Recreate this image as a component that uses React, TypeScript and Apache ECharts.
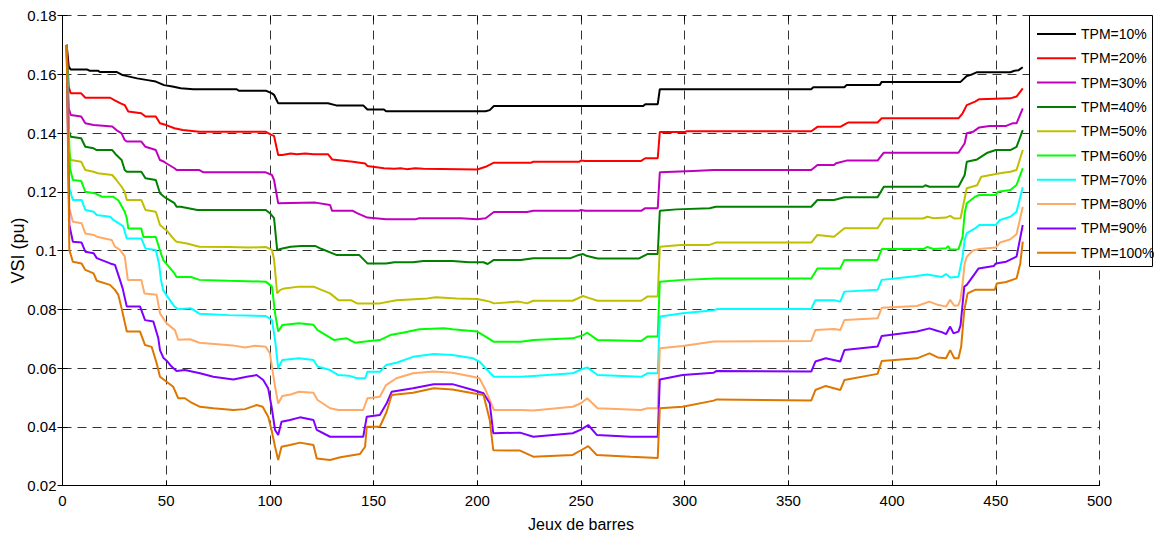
import { useEffect, useRef } from "react";
import * as echarts from "echarts";

type Pt = [number, number];

const seriesNames = [
  "TPM=10%",
  "TPM=20%",
  "TPM=30%",
  "TPM=40%",
  "TPM=50%",
  "TPM=60%",
  "TPM=70%",
  "TPM=80%",
  "TPM=90%",
  "TPM=100%",
];

const seriesColors = [
  "#000000",
  "#ff0000",
  "#bf00bf",
  "#007f00",
  "#bfbf00",
  "#00ff00",
  "#00ffff",
  "#ffaa66",
  "#8000ff",
  "#dd7700",
];

const xMin = 0;
const xMax = 500;
const xStep = 50;
const yMin = 0.02;
const yMax = 0.18;
const yStep = 0.02;

const tpm10: Pt[] = [
  [2, 0.17], [3, 0.1626], [4, 0.1616], [12, 0.1616], [13, 0.1612], [17, 0.1612], [18, 0.1608],
  [26, 0.1608], [29, 0.1597], [36, 0.1586], [41, 0.158], [45, 0.1575], [49, 0.1563], [53, 0.1558],
  [57, 0.1552], [63, 0.1549], [84, 0.1549], [85, 0.1544], [98, 0.1544], [101, 0.1535], [102, 0.153],
  [104, 0.1501], [128, 0.1501], [132, 0.1494], [145, 0.1494], [147, 0.148], [155, 0.148],
  [156, 0.1474], [204, 0.1474], [206, 0.1478], [208, 0.1492], [280, 0.1492], [281, 0.1498],
  [287, 0.1498], [288, 0.1549], [361, 0.1549], [362, 0.1556], [377, 0.1556], [378, 0.1563],
  [394, 0.1563], [395, 0.1574], [433, 0.1574], [436, 0.1594], [438, 0.1598], [441, 0.1607],
  [457, 0.1607], [459, 0.1612], [461, 0.1614], [463, 0.1624],
];

const tpm20: Pt[] = [
  [2, 0.17], [3, 0.1556], [4, 0.1535], [9, 0.1535], [11, 0.152], [23, 0.152], [25, 0.1512],
  [28, 0.1501], [30, 0.1495], [31.7, 0.1473], [38, 0.1467], [40, 0.1456], [45, 0.1456],
  [47, 0.1433], [50, 0.1427], [54, 0.1416], [58, 0.141], [66, 0.1404], [98, 0.1404],
  [101, 0.1393], [102, 0.139], [104, 0.1325], [106, 0.1325], [110, 0.133], [113, 0.1328],
  [117, 0.133], [121, 0.1328], [128, 0.1328], [130, 0.131], [140, 0.1302], [146, 0.1296],
  [147, 0.1288], [155, 0.128], [160, 0.1278], [163, 0.128], [166, 0.1277], [170, 0.128],
  [174, 0.1278], [200, 0.1276], [204, 0.1285], [208, 0.1299], [226, 0.1299], [227, 0.1302],
  [249, 0.1302], [250, 0.1306], [252, 0.1305], [279, 0.1305], [281, 0.1314], [287, 0.1314],
  [288, 0.1403], [300, 0.1403], [301, 0.1406], [361, 0.1406], [364, 0.1421], [375, 0.1421],
  [378, 0.1433], [379, 0.1436], [393, 0.1436], [395, 0.145], [432, 0.145], [434, 0.1467],
  [436, 0.1495], [440, 0.1507], [442, 0.1515], [457, 0.1518], [460, 0.1524], [463, 0.1552],
];

const tpm30: Pt[] = [
  [2, 0.17], [3, 0.1484], [4, 0.1461], [9, 0.1456], [11, 0.1433], [15, 0.1427], [24, 0.1422],
  [26, 0.141], [28.5, 0.1399], [30, 0.1376], [31, 0.1371], [38, 0.1371], [40, 0.1353],
  [45, 0.1342], [47, 0.1308], [49, 0.1302], [50, 0.1297], [54, 0.128], [55, 0.1274],
  [66, 0.1274], [68, 0.1266], [98, 0.1266], [101, 0.1257], [102, 0.124], [104, 0.1161],
  [122, 0.1163], [129, 0.1155], [130, 0.1135], [140, 0.1135], [142, 0.1127], [147, 0.1112],
  [156, 0.1106], [170, 0.1106], [172, 0.111], [192, 0.111], [200, 0.1106], [204, 0.111],
  [208, 0.1131], [224, 0.1131], [227, 0.1135], [249, 0.1135], [250, 0.1138], [252, 0.1135],
  [279, 0.1135], [281, 0.1144], [287, 0.1144], [288, 0.1266], [304, 0.1271], [314, 0.1274],
  [361, 0.1274], [364, 0.1291], [372, 0.1291], [373, 0.1297], [378, 0.1306], [393, 0.1306],
  [396, 0.1333], [432, 0.1333], [435, 0.1365], [436, 0.1399], [439, 0.1404], [442, 0.1419],
  [447, 0.1424], [455, 0.1424], [458, 0.1433], [460, 0.1433], [463, 0.1484],
];

const tpm40: Pt[] = [
  [2, 0.17], [3, 0.141], [4, 0.1387], [9, 0.1382], [11, 0.1353], [15, 0.1348], [16.5, 0.1342],
  [24, 0.1342], [26, 0.1325], [28.5, 0.1308], [30, 0.1274], [31, 0.1268], [38, 0.1268],
  [40, 0.1246], [45, 0.124], [47, 0.1195], [49, 0.1183], [50, 0.1178], [54, 0.1161],
  [55, 0.1149], [57, 0.1149], [65, 0.1138], [98, 0.1138], [100, 0.1127], [102, 0.111],
  [103.5, 0.1002], [106, 0.1007], [110, 0.1013], [115, 0.1015], [122, 0.1015], [125, 0.1005],
  [132, 0.0985], [143, 0.0985], [147, 0.0956], [156, 0.0956], [160, 0.096], [169, 0.096],
  [174, 0.0964], [188, 0.0964], [196, 0.096], [203, 0.096], [205, 0.0954], [208, 0.0968],
  [221, 0.0968], [227, 0.0974], [245, 0.0974], [249, 0.0985], [251, 0.0988], [253, 0.0981],
  [258, 0.0973], [278, 0.0973], [282, 0.0988], [287, 0.0988], [288, 0.1135], [296, 0.114],
  [312, 0.1144], [315, 0.1149], [361, 0.1149], [364, 0.1172], [372, 0.1172], [377, 0.1181],
  [393, 0.1181], [396, 0.1217], [415, 0.1217], [416, 0.1222], [418, 0.1217], [432, 0.1217],
  [435, 0.1257], [436, 0.1302], [441, 0.131], [446, 0.1333], [450, 0.1342], [457, 0.1342],
  [460, 0.1353], [463, 0.141],
];

const tpm50: Pt[] = [
  [2, 0.17], [3, 0.1348], [4, 0.1308], [9, 0.1302], [11, 0.1274], [15, 0.1268], [17, 0.1263],
  [24, 0.1257], [26, 0.124], [28.5, 0.1217], [30, 0.12], [31, 0.1172], [38, 0.1172],
  [40, 0.1138], [45, 0.1132], [47, 0.1087], [49, 0.1075], [50, 0.107], [54, 0.1036],
  [55, 0.103], [60, 0.1024], [66, 0.1013], [80, 0.1012], [90, 0.101], [98, 0.1012],
  [101, 0.1002], [102, 0.097], [103.5, 0.0854], [105, 0.0866], [107, 0.0871], [114, 0.0877],
  [121, 0.0877], [129, 0.0854], [133, 0.0831], [139, 0.0831], [142, 0.082], [153, 0.082],
  [161, 0.0831], [176, 0.0837], [180, 0.0841], [190, 0.0837], [200, 0.0835], [206, 0.0826],
  [208, 0.082], [220, 0.0826], [224, 0.082], [227, 0.0829], [246, 0.0829], [251, 0.0845],
  [254, 0.0838], [258, 0.0829], [279, 0.0829], [282, 0.0843], [287, 0.0843], [288, 0.1013],
  [298, 0.1019], [312, 0.1019], [315, 0.1027], [361, 0.1027], [364, 0.1053], [372, 0.1047],
  [377, 0.1076], [393, 0.1076], [396, 0.1109], [415, 0.1109], [417, 0.1115], [420, 0.111],
  [426, 0.1112], [428, 0.1118], [430, 0.1109], [433, 0.111], [436, 0.1212], [441, 0.1222],
  [443, 0.1251], [452, 0.1263], [457, 0.1268], [460, 0.1274], [463, 0.1342],
];

const tpm60: Pt[] = [
  [2, 0.17], [3.6, 0.128], [5, 0.124], [9, 0.1237], [11, 0.12], [16, 0.1194], [19, 0.1183],
  [24.5, 0.1183], [27, 0.117], [30, 0.1132], [31, 0.111], [31.7, 0.1075], [38, 0.1075],
  [39, 0.1046], [45, 0.1046], [47, 0.1], [48.6, 0.0967], [54, 0.0922], [55, 0.091],
  [62, 0.091], [66, 0.09], [80, 0.0897], [98, 0.0894], [101, 0.0877], [102.5, 0.0786],
  [104, 0.0724], [106, 0.0746], [114, 0.0752], [121, 0.0747], [123, 0.0729], [131, 0.0695],
  [137, 0.0701], [141, 0.0686], [147, 0.0691], [153, 0.0695], [158, 0.0712], [164, 0.072],
  [172, 0.0732], [184, 0.0735], [188, 0.0732], [200, 0.0724], [204, 0.0707], [208, 0.0689],
  [221, 0.0689], [227, 0.0695], [246, 0.0701], [251, 0.0712], [253, 0.072], [256, 0.0705],
  [258, 0.0695], [279, 0.0692], [282, 0.0707], [287, 0.0707], [288, 0.0894], [299, 0.09],
  [315, 0.0905], [361, 0.0905], [364, 0.0939], [375, 0.0939], [377, 0.0968], [393, 0.0968],
  [395, 0.1005], [415, 0.1005], [417, 0.1012], [420, 0.1005], [426, 0.1008], [427, 0.1015],
  [428, 0.1003], [432, 0.1004], [434, 0.1047], [435, 0.1127], [436, 0.1161], [440, 0.1183],
  [442, 0.1189], [450, 0.1189], [451, 0.12], [457, 0.1206], [460, 0.1223], [463, 0.128],
];

const tpm70: Pt[] = [
  [2, 0.17], [3.3, 0.1212], [5, 0.1172], [9.2, 0.1172], [11, 0.1138], [15, 0.1132],
  [16.5, 0.1121], [23, 0.1115], [24.5, 0.1104], [27, 0.1093], [29.3, 0.1082], [31, 0.1041],
  [38, 0.1041], [40, 0.1007], [45, 0.1002], [46.5, 0.0956], [47.5, 0.09], [48.5, 0.0866],
  [50, 0.0849], [54, 0.0809], [56, 0.08], [62, 0.0803], [66, 0.0785], [80, 0.078],
  [98, 0.0777], [101, 0.0763], [102.5, 0.0695], [104, 0.0599], [106, 0.0627], [114, 0.0633],
  [121, 0.0627], [123, 0.0605], [129, 0.0593], [133, 0.0576], [138, 0.0574], [142, 0.0565],
  [146, 0.0565], [147, 0.0587], [153, 0.0587], [156, 0.061], [161, 0.0618], [169, 0.0638],
  [179, 0.0648], [188, 0.0644], [198, 0.0633], [201, 0.0622], [204, 0.0599], [208, 0.057],
  [221, 0.057], [227, 0.0573], [246, 0.0582], [250, 0.0595], [253, 0.0602], [258, 0.0576],
  [279, 0.057], [282, 0.0582], [287, 0.0582], [288, 0.0775], [290, 0.0777], [299, 0.0786],
  [314, 0.0797], [316, 0.0801], [361, 0.0801], [363, 0.0831], [372, 0.0831], [375, 0.0826],
  [377, 0.086], [393, 0.0866], [395, 0.09], [411, 0.0912], [417, 0.0918], [424, 0.091],
  [426, 0.092], [428, 0.0908], [432, 0.0911], [434, 0.0979], [435, 0.1036], [436, 0.1059],
  [440, 0.1075], [442, 0.1087], [450, 0.1087], [452, 0.1104], [457, 0.1115], [460, 0.1132],
  [463, 0.1215],
];

const tpm80: Pt[] = [
  [2, 0.17], [3.3, 0.1144], [5, 0.1098], [9.2, 0.1093], [11, 0.1058], [15, 0.1053],
  [16.5, 0.1047], [23.7, 0.1036], [25.3, 0.1013], [27.7, 0.1002], [30, 0.098], [31.5, 0.09],
  [38, 0.09], [39.5, 0.0854], [45.4, 0.0849], [47, 0.0786], [50.2, 0.0752], [54.2, 0.0729],
  [55.8, 0.0696], [61.5, 0.0698], [66, 0.0686], [82, 0.0677], [88, 0.067], [93, 0.0676],
  [98, 0.0672], [100, 0.065], [101, 0.0605], [102.5, 0.0536], [104, 0.0479], [106, 0.0505],
  [110, 0.051], [114, 0.0519], [121, 0.0516], [123, 0.0491], [129, 0.0463], [133, 0.0457],
  [145, 0.0457], [147, 0.0497], [153, 0.0502], [156, 0.0542], [161, 0.0565], [169, 0.0582],
  [179, 0.0588], [188, 0.0584], [198, 0.057], [201, 0.0565], [204, 0.0525], [208, 0.0457],
  [221, 0.0457], [227, 0.0455], [246, 0.0468], [250, 0.048], [253, 0.0497], [258, 0.0463],
  [279, 0.0457], [282, 0.0463], [287, 0.0463], [288, 0.0667], [299, 0.0675], [314, 0.069],
  [361, 0.0692], [363, 0.0729], [372, 0.0733], [375, 0.0729], [377, 0.0763], [393, 0.0769],
  [395, 0.0805], [412, 0.0811], [418, 0.0826], [422, 0.0815], [426, 0.0809], [428, 0.0832],
  [430, 0.0812], [432, 0.0814], [433, 0.0835], [434, 0.0888], [435, 0.0956], [436, 0.0979],
  [439, 0.1], [442, 0.1005], [450, 0.101], [452, 0.1027], [457, 0.1038], [460, 0.1055],
  [463, 0.1149],
];

const tpm90: Pt[] = [
  [2, 0.17], [3.3, 0.1087], [5, 0.103], [9.2, 0.1027], [11, 0.0996], [15, 0.0991],
  [16.5, 0.0974], [23, 0.0956], [25.3, 0.0951], [27.7, 0.09], [29, 0.0871], [31, 0.0809],
  [37.4, 0.0809], [39.8, 0.0763], [43.8, 0.0758], [46.2, 0.0701], [47, 0.0661],
  [48.6, 0.0635], [50.2, 0.0625], [52.6, 0.0605], [55, 0.059], [59, 0.0593], [66.3, 0.0582],
  [72.7, 0.057], [82.4, 0.0561], [88.8, 0.057], [93.6, 0.0576], [96.8, 0.0559], [99.2, 0.053],
  [100.8, 0.0468], [102.5, 0.0389], [104, 0.0372], [105.6, 0.0417], [109.7, 0.0423],
  [114.5, 0.0432], [121, 0.0423], [122.6, 0.0389], [129, 0.0366], [145, 0.0366],
  [146.7, 0.0434], [153, 0.044], [156.3, 0.048], [158.7, 0.0519], [169, 0.0531], [179, 0.0545],
  [188, 0.0545], [198, 0.0525], [203, 0.0514], [206, 0.048], [207.7, 0.0378], [220.6, 0.038],
  [227, 0.0366], [246, 0.0378], [250, 0.039], [253.5, 0.0406], [257.6, 0.0372], [274, 0.0366],
  [287, 0.0366], [288, 0.0561], [299, 0.0576], [314, 0.0584], [315.4, 0.059], [361, 0.0588],
  [363, 0.0622], [368, 0.0633], [375, 0.0622], [377, 0.0661], [393, 0.0673], [395, 0.0709],
  [412, 0.0724], [418, 0.0735], [422, 0.0726], [424, 0.0722], [426, 0.0715], [428, 0.0741],
  [429.6, 0.0718], [432, 0.0724], [433, 0.0745], [434.8, 0.0877], [436, 0.0883], [440, 0.0922],
  [441.7, 0.0939], [449, 0.0947], [450, 0.0956], [455, 0.0962], [460, 0.0979], [463, 0.1087],
];

const tpm100: Pt[] = [
  [2, 0.17], [3.3, 0.1002], [5, 0.0962], [9.2, 0.0956], [11, 0.0934], [15, 0.0922],
  [16.5, 0.0897], [22.9, 0.0883], [25.3, 0.0866], [26.9, 0.0849], [28.5, 0.0803], [31, 0.0724],
  [37.4, 0.0724], [39.8, 0.0678], [43, 0.0672], [45.4, 0.0616], [47, 0.057], [50.2, 0.0553],
  [53.4, 0.0536], [55.8, 0.0497], [59, 0.0497], [61.5, 0.0485], [66.3, 0.0468], [72.7, 0.0463],
  [82.4, 0.0457], [88, 0.046], [93.6, 0.0474], [96.5, 0.0468], [99.2, 0.0434], [100.8, 0.0389],
  [102.5, 0.0332], [104, 0.0287], [105.6, 0.0332], [109.7, 0.0338], [114.5, 0.0346],
  [121, 0.0338], [122.6, 0.0292], [129, 0.0287], [134, 0.0296], [143.4, 0.0307],
  [145.9, 0.0332], [146.7, 0.04], [153, 0.04], [156.3, 0.0451], [158.7, 0.0508], [169, 0.0516],
  [179, 0.0531], [188, 0.0527], [198, 0.0514], [203, 0.0508], [206, 0.0423], [207.7, 0.032],
  [220.6, 0.0319], [227, 0.0298], [246, 0.0304], [250, 0.032], [253.5, 0.0334],
  [257.6, 0.0304], [274, 0.0298], [287, 0.0294], [288, 0.0463], [299, 0.0468], [314, 0.0489],
  [315.4, 0.0493], [361, 0.0489], [363, 0.0525], [368, 0.0539], [375, 0.0525], [377, 0.0559],
  [393, 0.058], [395, 0.0624], [412, 0.0633], [418, 0.065], [422, 0.0636], [426, 0.0633],
  [428, 0.0661], [430, 0.0633], [432, 0.0633], [433.3, 0.0672], [434.8, 0.0797],
  [436.4, 0.0854], [440, 0.0866], [449.5, 0.0866], [450.5, 0.0888], [455, 0.0893],
  [460, 0.0905], [461.8, 0.0956], [463, 0.103],
];

const seriesData: Pt[][] = [tpm10, tpm20, tpm30, tpm40, tpm50, tpm60, tpm70, tpm80, tpm90, tpm100];

const NARROW = "'Liberation Sans Narrow', 'Liberation Sans', Arial, sans-serif";
const REGULAR = "'Liberation Sans', Arial, sans-serif";

const gridLine = { show: true, lineStyle: { color: "#333333", type: [9, 6] as number[], width: 1 } };

export default function App() {
  const ref = useRef<HTMLDivElement>(null);

  useEffect(() => {
    if (!ref.current) return;
    const chart = echarts.init(ref.current, undefined, { renderer: "svg" });

    const fmtY = (v: number) => String(Number(v.toFixed(2)));

    chart.setOption({
      animation: false,
      backgroundColor: "#ffffff",
      textStyle: { fontFamily: NARROW },
      grid: {
        left: 62.5,
        right: 54.5,
        top: 15.5,
        bottom: 54.5,
        containLabel: false,
        outerBoundsMode: "none",
      },
      // framed box behind the legend entries
      graphic: [
        {
          type: "rect",
          left: 1029,
          top: 15,
          z: 9,
          shape: { width: 123, height: 251 },
          style: { fill: "#ffffff", stroke: "#000000", lineWidth: 1 },
        },
      ],
      legend: {
        data: seriesNames,
        orient: "vertical",
        left: 1029,
        top: 15,
        padding: [12, 2, 7, 8],
        itemWidth: 39,
        itemHeight: 2,
        itemGap: 10.3,
        icon: "rect",
        backgroundColor: "transparent",
        borderWidth: 0,
        textStyle: { fontFamily: NARROW, fontSize: 14, color: "#000000" },
        z: 10,
      },
      xAxis: [
        {
          type: "value",
          min: xMin,
          max: xMax,
          interval: xStep,
          name: "Jeux de barres",
          nameLocation: "middle",
          nameGap: 31,
          nameTextStyle: { fontFamily: NARROW, fontSize: 16, color: "#000000" },
          axisLine: { show: true, onZero: false, lineStyle: { color: "#000000", width: 1 } },
          axisTick: { show: true, inside: true, length: 5, lineStyle: { color: "#000000" } },
          axisLabel: { fontFamily: NARROW, fontSize: 15, color: "#000000", margin: 7 },
          splitLine: gridLine,
        },
        {
          type: "value",
          position: "top",
          min: xMin,
          max: xMax,
          interval: xStep,
          axisLine: { show: false },
          axisTick: { show: true, inside: true, length: 5, lineStyle: { color: "#000000" } },
          axisLabel: { show: false },
          splitLine: { show: false },
        },
      ],
      yAxis: [
        {
          type: "value",
          min: yMin,
          max: yMax,
          interval: yStep,
          name: "VSI (pu)",
          nameLocation: "middle",
          nameGap: 36,
          nameMoveOverlap: false,
          nameTextStyle: { fontFamily: REGULAR, fontSize: 18, color: "#000000" },
          axisLine: { show: true, onZero: false, lineStyle: { color: "#000000", width: 1 } },
          axisTick: { show: true, inside: true, length: 5, lineStyle: { color: "#000000" } },
          axisLabel: { fontFamily: NARROW, fontSize: 15, color: "#000000", margin: 6, formatter: fmtY },
          splitLine: gridLine,
        },
        {
          type: "value",
          position: "right",
          min: yMin,
          max: yMax,
          interval: yStep,
          axisLine: { show: false },
          axisTick: { show: true, inside: true, length: 5, lineStyle: { color: "#000000" } },
          axisLabel: { show: false },
          splitLine: { show: false },
        },
      ],
      series: seriesData.map((data, i) => ({
        name: seriesNames[i],
        type: "line",
        xAxisIndex: 0,
        yAxisIndex: 0,
        data,
        symbol: "none",
        smooth: false,
        lineStyle: { color: seriesColors[i], width: 2 },
        itemStyle: { color: seriesColors[i] },
        z: 3,
      })),
    });

    return () => chart.dispose();
  }, []);

  return (
    <div
      ref={ref}
      style={{ position: "absolute", left: 0, top: 0, width: 1154, height: 540 }}
    />
  );
}
